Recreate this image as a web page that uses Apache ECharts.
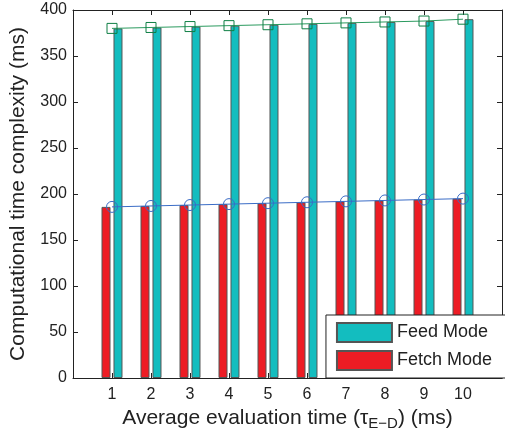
<!DOCTYPE html>
<html>
<head>
<meta charset="utf-8">
<script src="https://cdn.jsdelivr.net/npm/echarts@6/dist/echarts.min.js"></script>
<style>
  html, body { margin: 0; padding: 0; background: #fff; }
  #chart { width: 505px; height: 441px; }
</style>
</head>
<body>
<div id="chart"></div>
<script>
  // data
  var times = [1, 2, 3, 4, 5, 6, 7, 8, 9, 10];
  var feedMode = [380, 381, 382, 383, 384, 385, 386, 387, 388, 390];
  var fetchMode = [186, 187, 188, 189, 190, 191, 192, 193, 194, 195];
  var yTicks = [0, 50, 100, 150, 200, 250, 300, 350, 400];

  function pairs(vals) {
    return times.map(function (t, i) { return [t, vals[i]]; });
  }

  var font = 'Liberation Sans';
  var ink = '#222';
  var myChart = echarts.init(document.getElementById('chart'));
  var option = {
    animation: false,
    textStyle: { fontFamily: font },
    grid: { left: 73, right: 1, top: 10, bottom: 63 },
    legend: {
      data: ['Feed Mode', 'Fetch Mode'],
      orient: 'vertical',
      right: -1,
      top: 315,
      icon: 'rect',
      itemWidth: 55,
      itemHeight: 19,
      itemGap: 7,
      padding: [7, 14, 7, 10],
      backgroundColor: '#fff',
      borderColor: ink,
      borderWidth: 1,
      borderRadius: 0,
      textStyle: { fontFamily: font, fontSize: 18, color: ink }
    },
    xAxis: [{
      type: 'value',
      min: 0, max: 11, interval: 1,
      name: '{a|Average evaluation time (τ}{s|E−D}{a|) (ms)}',
      nameLocation: 'middle',
      nameGap: 22,
      nameTextStyle: {
        rich: {
          a: { fontFamily: font, fontSize: 21, color: ink },
          s: { fontFamily: font, fontSize: 15, color: ink, padding: [11, 0, 0, 0] }
        }
      },
      axisLine: { onZero: false, lineStyle: { color: ink, width: 1 } },
      axisTick: { inside: true, length: 5, lineStyle: { color: ink } },
      axisLabel: {
        fontSize: 16, color: ink, margin: 9,
        formatter: function (v) { return times.indexOf(v) >= 0 ? String(v) : ''; }
      },
      splitLine: { show: false }
    }, {
      type: 'value',
      position: 'top',
      min: 0, max: 11, interval: 1,
      axisLine: { onZero: false, lineStyle: { color: ink, width: 1 } },
      axisTick: { inside: true, length: 5, lineStyle: { color: ink } },
      axisLabel: { show: false },
      splitLine: { show: false }
    }],
    yAxis: [{
      type: 'value',
      min: yTicks[0], max: yTicks[yTicks.length - 1], interval: 50,
      name: 'Computational time complexity (ms)',
      nameLocation: 'middle',
      nameGap: 44,
      nameTextStyle: { fontFamily: font, fontSize: 21, color: ink },
      axisLine: { show: true, onZero: false, lineStyle: { color: ink, width: 1 } },
      axisTick: { inside: true, length: 5, lineStyle: { color: ink } },
      axisLabel: { fontSize: 16, color: ink, margin: 6 },
      splitLine: { show: false }
    }, {
      type: 'value',
      position: 'right',
      min: yTicks[0], max: yTicks[yTicks.length - 1], interval: 50,
      axisLine: { show: true, onZero: false, lineStyle: { color: ink, width: 1 } },
      axisTick: { inside: true, length: 5, lineStyle: { color: ink } },
      axisLabel: { show: false },
      splitLine: { show: false }
    }],
    series: [{
      name: 'Fetch Mode',
      type: 'bar',
      barWidth: 9,
      barGap: '33%',
      data: pairs(fetchMode),
      itemStyle: { color: '#ed1c24', borderColor: '#555', borderWidth: 1 }
    }, {
      name: 'Feed Mode',
      type: 'bar',
      barWidth: 9,
      barGap: '33%',
      data: pairs(feedMode),
      itemStyle: { color: '#13bdbf', borderColor: '#555', borderWidth: 1 }
    }, {
      name: 'feedLine',
      type: 'line',
      data: pairs(feedMode),
      symbol: 'rect',
      symbolSize: 10,
      z: 5,
      lineStyle: { color: '#2a9a5e', width: 1 },
      itemStyle: { color: 'none', borderColor: '#0f7f45', borderWidth: 1 }
    }, {
      name: 'fetchLine',
      type: 'line',
      data: pairs(fetchMode),
      symbol: 'circle',
      symbolSize: 11,
      z: 5,
      lineStyle: { color: '#3a6cc6', width: 1 },
      itemStyle: { color: 'none', borderColor: '#3a6cc6', borderWidth: 1 }
    }]
  };
  myChart.setOption(option);
</script>
</body>
</html>
